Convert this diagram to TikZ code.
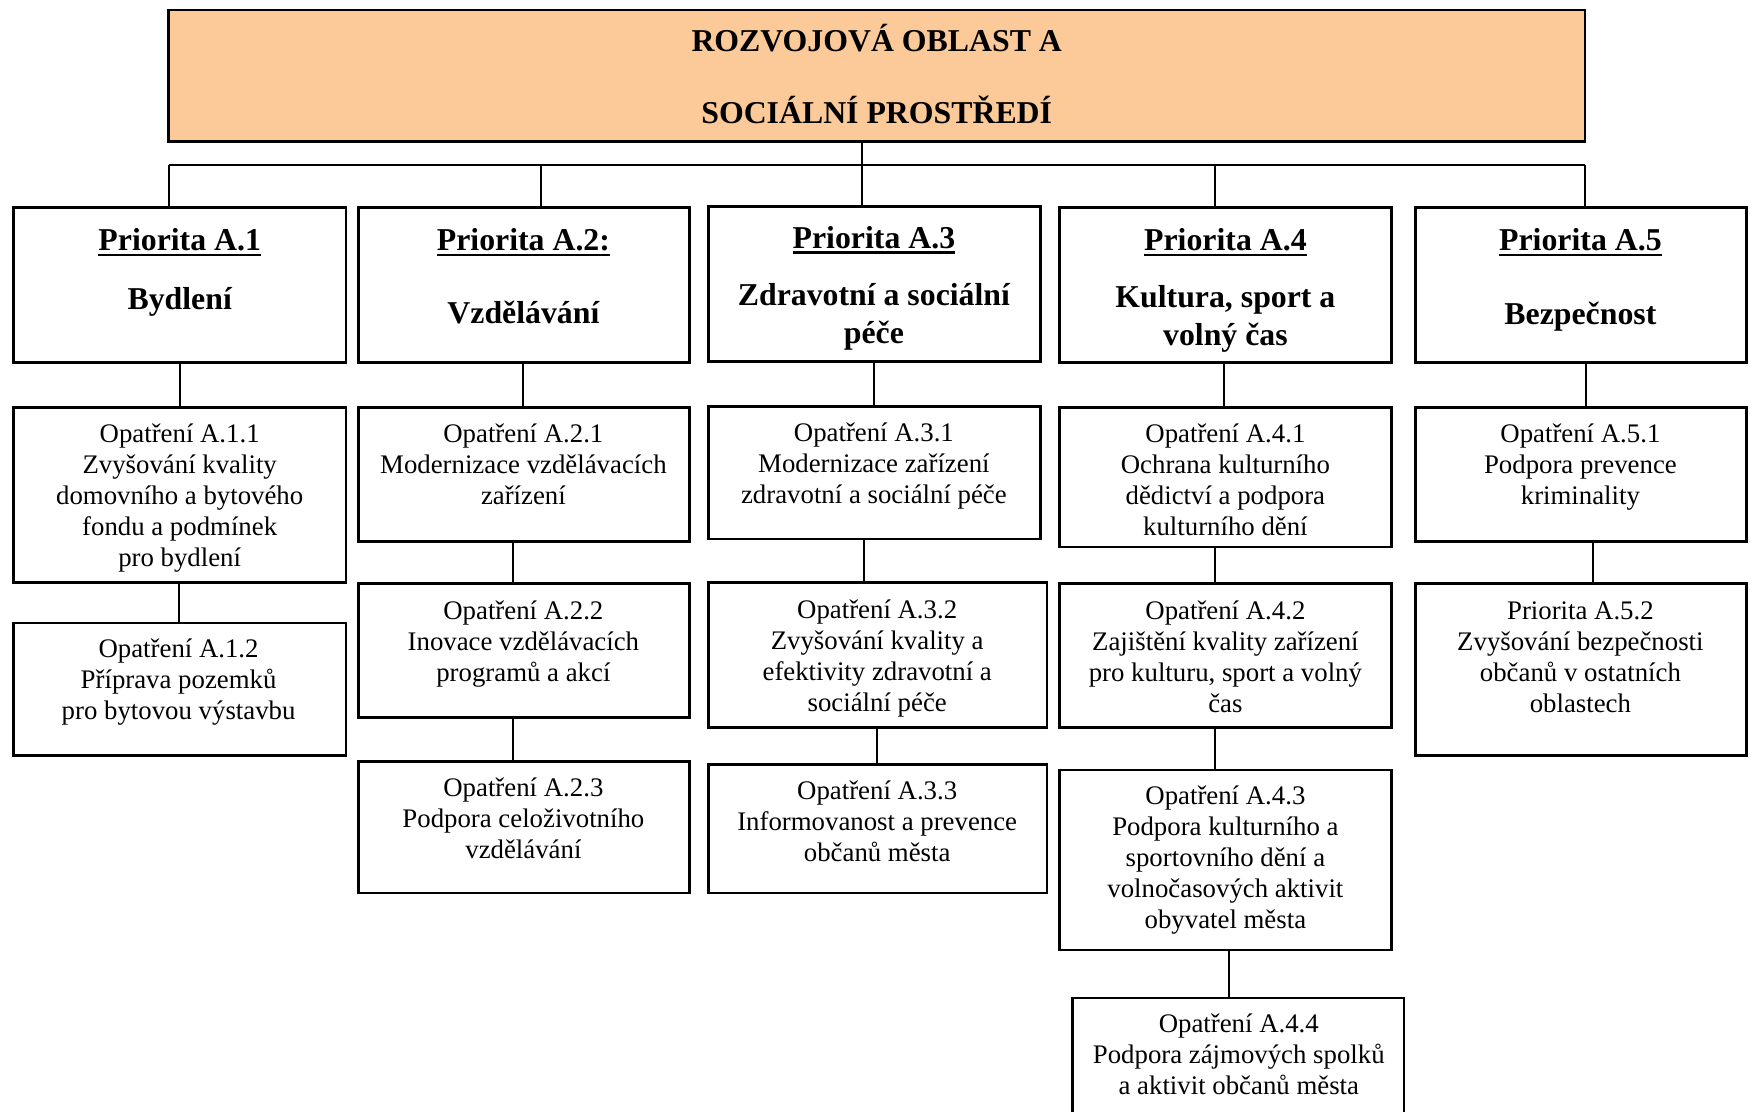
\documentclass[tikz,border=0pt]{standalone}
\usepackage{fontspec}
\setmainfont{Liberation Serif}
\definecolor{peach}{RGB}{252,202,153}
\newcommand\pul[1]{\setbox0\hbox{#1}\rlap{\rule[-2.6pt]{\wd0}{1.1pt}}\box0}
\newcommand\mkbox[5]{\node[boxs, minimum width={(#4-#2)*0.5pt}, minimum height={(#5-#3)*0.5pt}] (#1) at ({(#2+#4)/2},{(#3+#5)/2}) {};}
\begin{document}
\begin{tikzpicture}[x=0.5pt,y=-0.5pt,
 boxs/.style={draw, line width=1.3pt, inner sep=0pt, fill=white},
 conn/.style={line width=1pt},
 ntxt/.style={inner sep=0pt, align=center, font=\fontsize{13.4}{15.5}\selectfont, execute at begin node=\strut, execute at end node=\strut, yshift=-2.3pt},
 btxt/.style={inner sep=0pt, align=center, font=\fontsize{15.9}{19}\selectfont\bfseries, execute at begin node=\strut, execute at end node=\strut, yshift=-2.1pt},
]
\useasboundingbox (0,0) rectangle (1750,1112);
\fill[white] (0,0) rectangle (1750,1112);

% top box
\node[boxs, fill=peach, minimum width={(1584.8-168.5)*0.5pt}, minimum height={(141.7-10)*0.5pt}] (top) at ({(168.5+1584.8)/2},{(10+141.7)/2}) {};
\node[btxt] (title1) at (876.7,39) {ROZVOJOVÁ OBLAST A};
\node[btxt] (title2) at (876.7,111.6) {SOCIÁLNÍ PROSTŘEDÍ};

% priority boxes
\mkbox{p1}{13.4}{207.6}{346}{362.7}
\mkbox{p2}{358.3}{207.6}{689.7}{362.7}
\mkbox{p3}{708.7}{206.5}{1040.2}{361.6}
\mkbox{p4}{1059.2}{207.6}{1391.7}{362.7}
\mkbox{p5}{1415.2}{207.6}{1746.7}{362.7}

% measure boxes
\mkbox{m11}{13.4}{407.4}{346}{582.6}
\mkbox{m12}{13.4}{622.8}{346}{755.6}
\mkbox{m21}{358.3}{407.4}{689.7}{541.3}
\mkbox{m22}{358.3}{583.7}{689.7}{717.6}
\mkbox{m23}{358.3}{761.2}{689.7}{892.9}
\mkbox{m31}{708.7}{406.3}{1040.2}{539}
\mkbox{m32}{708.7}{582.6}{1046.9}{727.7}
\mkbox{m33}{708.7}{764.5}{1046.9}{892.9}
\mkbox{m41}{1059.2}{407.4}{1391.7}{546.9}
\mkbox{m42}{1059.2}{583.7}{1391.7}{727.7}
\mkbox{m43}{1059.2}{770.1}{1391.7}{949.8}
\mkbox{m44}{1072.5}{997.8}{1404}{1130}
\mkbox{m51}{1415.2}{407.4}{1746.7}{541.3}
\mkbox{m52}{1415.2}{583.7}{1746.7}{755.6}

% tree bar
\coordinate (barL) at (168.5,165);
\coordinate (barR) at (1584.8,165);
\draw[line width=1.4pt] (barL) -- (barR);
\draw[conn] (top.south -| 861.6,0) -- (barL -| 861.6,0);
\draw[conn] (barL) -- (p1.north -| barL);
\draw[conn] (barL -| 541.3,0) -- (p2.north -| 541.3,0);
\draw[conn] (barL -| 861.6,0) -- (p3.north -| 861.6,0);
\draw[conn] (barL -| 1215.4,0) -- (p4.north -| 1215.4,0);
\draw[conn] (barR) -- (p5.north -| barR);

% vertical connectors
\draw[conn] (p1.south -| 179.7,0) -- (m11.north -| 179.7,0);
\draw[conn] (m11.south -| 178.6,0) -- (m12.north -| 178.6,0);
\draw[conn] (p2.south -| 523.4,0) -- (m21.north -| 523.4,0);
\draw[conn] (m21.south -| 513.4,0) -- (m22.north -| 513.4,0);
\draw[conn] (m22.south -| 513.4,0) -- (m23.north -| 513.4,0);
\draw[conn] (p3.south -| 873.9,0) -- (m31.north -| 873.9,0);
\draw[conn] (m31.south -| 863.8,0) -- (m32.north -| 863.8,0);
\draw[conn] (m32.south -| 877.2,0) -- (m33.north -| 877.2,0);
\draw[conn] (p4.south -| 1224.3,0) -- (m41.north -| 1224.3,0);
\draw[conn] (m41.south -| 1215.4,0) -- (m42.north -| 1215.4,0);
\draw[conn] (m42.south -| 1215.4,0) -- (m43.north -| 1215.4,0);
\draw[conn] (m43.south -| 1228.8,0) -- (m44.north -| 1228.8,0);
\draw[conn] (p5.south -| 1585.9,0) -- (m51.north -| 1585.9,0);
\draw[conn] (m51.south -| 1592.6,0) -- (m52.north -| 1592.6,0);

% priority texts
\node[btxt] (p1h) at (179.7,238.8) {\pul{Priorita A.1}};
\node[btxt] (p1b) at (179.7,298) {Bydlení};
\node[btxt] (p2h) at (523.4,238.8) {\pul{Priorita A.2:}};
\node[btxt] (p2b) at (523.4,311.4) {Vzdělávání};
\node[btxt] (p3h) at (873.9,236.6) {\pul{Priorita A.3}};
\node[btxt] (p3b) at (873.9,314.6) {Zdravotní a sociální\\péče};
\node[btxt] (p4h) at (1225.4,238.8) {\pul{Priorita A.4}};
\node[btxt] (p4b) at (1225.4,316.8) {Kultura, sport a\\volný čas};
\node[btxt] (p5h) at (1580.4,238.8) {\pul{Priorita A.5}};
\node[btxt] (p5b) at (1580.4,312.5) {Bezpečnost};

% measure texts
\node[ntxt] (t11) at (179.7,495.1) {Opatření A.1.1\\Zvyšování kvality\\domovního a bytového\\fondu a podmínek\\pro bydlení};
\node[ntxt] (t12) at (178.6,679.7) {Opatření A.1.2\\Příprava pozemků\\pro bytovou výstavbu};
\node[ntxt] (t21) at (523.4,464.3) {Opatření A.2.1\\Modernizace vzdělávacích\\zařízení};
\node[ntxt] (t22) at (523.4,641.7) {Opatření A.2.2\\Inovace vzdělávacích\\programů a akcí};
\node[ntxt] (t23) at (523.4,818.5) {Opatření A.2.3\\Podpora celoživotního\\vzdělávání};
\node[ntxt] (t31) at (873.9,463.2) {Opatření A.3.1\\Modernizace zařízení\\zdravotní a sociální péče};
\node[ntxt] (t32) at (877.2,655.7) {Opatření A.3.2\\Zvyšování kvality a\\efektivity zdravotní a\\sociální péče};
\node[ntxt] (t33) at (877.2,821.4) {Opatření A.3.3\\Informovanost a prevence\\občanů města};
\node[ntxt] (t41) at (1225.4,479.6) {Opatření A.4.1\\Ochrana kulturního\\dědictví a podpora\\kulturního dění};
\node[ntxt] (t42) at (1225.4,656.5) {Opatření A.4.2\\Zajištění kvality zařízení\\pro kulturu, sport a volný\\čas};
\node[ntxt] (t43) at (1225.4,856.9) {Opatření A.4.3\\Podpora kulturního a\\sportovního dění a\\volnočasových aktivit\\obyvatel města};
\node[ntxt] (t44) at (1238.8,1053.9) {Opatření A.4.4\\Podpora zájmových spolků\\a aktivit občanů města};
\node[ntxt] (t51) at (1580.4,464.3) {Opatření A.5.1\\Podpora prevence\\kriminality};
\node[ntxt] (t52) at (1580.4,657.1) {Priorita A.5.2\\Zvyšování bezpečnosti\\občanů v ostatních\\oblastech};
\end{tikzpicture}
\end{document}
